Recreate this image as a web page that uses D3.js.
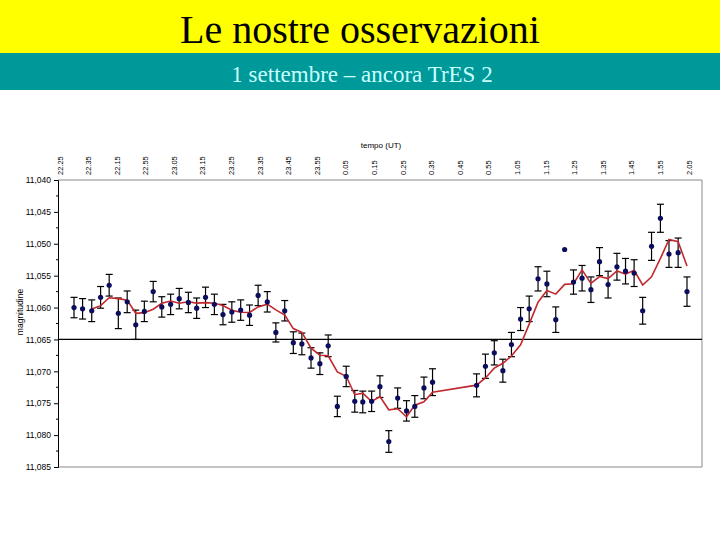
<!DOCTYPE html>
<html><head><meta charset="utf-8">
<script src="https://cdn.jsdelivr.net/npm/d3@7"></script>
<style>body{margin:0;background:#fff}svg{display:block}</style>
</head><body>
<svg id="c" width="720" height="540"></svg>
<script>
// Minutes after 22:25 UT for each observation
const minutes = [4.9,7.9,11.1,14.2,17.2,20.4,23.5,26.5,29.5,32.6,
  35.6,38.7,41.7,44.9,47.8,50.9,54.0,57.0,60.1,63.2,
  66.3,69.3,72.5,75.5,78.6,81.6,84.6,87.8,90.9,93.8,
  97.0,100.1,103.1,105.9,109.0,111.9,115.0,118.1,121.2,124.1,
  127.3,130.3,145.7,148.8,151.9,154.9,157.9,161.1,164.1,167.2,
  170.3,173.4,176.5,179.6,182.6,185.7,188.7,191.7,194.8,197.8,
  200.8,203.8,206.9,210.0,213.0,216.2,219.3];
const magnitude = [11.0600,11.0602,11.0605,11.0584,11.0565,11.0609,11.0591,11.0627,11.0606,11.0575,
  11.0599,11.0595,11.0586,11.0592,11.0601,11.0584,11.0595,11.0611,11.0607,11.0604,
  11.0612,11.0581,11.0591,11.0639,11.0605,11.0655,11.0657,11.0679,11.0688,11.0660,
  11.0755,11.0708,11.0747,11.0748,11.0747,11.0724,11.0810,11.0742,11.0762,11.0755,
  11.0726,11.0717,11.0722,11.0692,11.0671,11.0699,11.0658,11.0618,11.0602,11.0555,
  11.0563,11.0619,11.0509,11.0560,11.0554,11.0572,11.0528,11.0564,11.0536,11.0543,
  11.0546,11.0605,11.0504,11.0460,11.0516,11.0514,11.0575];
const errors = [.0016,.0016,.0017,.0017,.0017,.0024,.0017,.0023,.0016,.0016,
  .0016,.0016,.0016,.0016,.0016,.0016,.0016,.0016,.0016,.0016,
  .0016,.0016,.0016,.0015,.0016,.0017,.0017,.0016,.0017,.0017,
  .0016,.0016,.0017,.0017,.0016,.0017,.0017,.0016,.0016,.0017,
  .0017,.0021,.0018,.0019,.0019,.0018,.0019,.0018,.0020,.0019,
  .0020,.0020,0,.0019,.0020,.0020,.0022,.0021,.0021,.0020,
  .0021,.0021,.0022,.0022,.0021,.0023,.0023];
const timeLabels = ["22.25","22.35","22.15","22.55","23.05","23.15","23.25","23.35","23.45","23.55",
  "0.05","0.15","0.25","0.35","0.45","0.55","1.05","1.15","1.25","1.35","1.45","1.55","2.05"];
const yTicks = [11.040,11.045,11.050,11.055,11.060,11.065,11.070,11.075,11.080,11.085];
const refLevel = 11.065;
const trendPeriod = 3; // moving-average trendline period

const svg = d3.select("#c");
// Header bands
svg.append("rect").attr("x",0).attr("y",0).attr("width",720).attr("height",53).attr("fill","#ffff00");
svg.append("rect").attr("x",0).attr("y",53).attr("width",720).attr("height",37).attr("fill","#009999");
svg.append("text").attr("x",360).attr("y",43).attr("text-anchor","middle")
  .attr("font-family","Liberation Serif, Times New Roman, serif").attr("font-size",40).attr("fill","#000")
  .text("Le nostre osservazioni");
svg.append("text").attr("x",362).attr("y",82).attr("text-anchor","middle")
  .attr("font-family","Liberation Serif, Times New Roman, serif").attr("font-size",23).attr("fill","#c8ffff")
  .text("1 settembre \u2013 ancora TrES 2");

const L = 58, R = 702, T = 180, B = 467;
const x = d3.scaleLinear().domain([0,220]).range([60,689]);
const y = d3.scaleLinear().domain([11.040,11.085]).range([T,B]);

// Frame
svg.append("path").attr("d",`M${L},${T}H${R}V${B}H${L}`).attr("fill","none").attr("stroke","#8a8a8a").attr("stroke-width",1);

// Reference line
svg.append("line").attr("x1",L).attr("x2",R).attr("y1",y(refLevel)).attr("y2",y(refLevel))
  .attr("stroke","#000").attr("stroke-width",1.2);

// Y axis
const ya = svg.append("g").attr("transform",`translate(${L},0)`)
  .call(d3.axisLeft(y).tickValues(yTicks).tickSize(4).tickPadding(3)
    .tickFormat(d => d.toFixed(3).replace(".", ",")));
ya.select(".domain").attr("stroke","#000");
ya.selectAll(".tick line").attr("stroke","#000");
ya.selectAll("text").attr("font-family","Liberation Sans, Arial, sans-serif").attr("font-size",8.5).attr("fill","#000");
// minor ticks
const minor = yTicks.slice(0,-1).map(d => d + 0.0025);
svg.append("g").selectAll("line").data(minor).join("line")
  .attr("x1",L-2).attr("x2",L).attr("y1",d=>y(d)).attr("y2",d=>y(d)).attr("stroke","#000");

svg.append("text").attr("transform",`translate(23,312) rotate(-90)`).attr("text-anchor","middle")
  .attr("font-family","Liberation Sans, Arial, sans-serif").attr("font-size",8.5).text("magnitudine");

// Top time labels
svg.append("g").selectAll("text").data(timeLabels).join("text")
  .attr("transform",(d,i)=>`translate(${x(i*10)+2.5},175) rotate(-90)`)
  .attr("text-anchor","start")
  .attr("font-family","Liberation Sans, Arial, sans-serif").attr("font-size",7.5).attr("fill","#000")
  .text(d=>d);
svg.append("text").attr("x",381).attr("y",148).attr("text-anchor","middle")
  .attr("font-family","Liberation Sans, Arial, sans-serif").attr("font-size",8).text("tempo (UT)");

// Data
const data = minutes.map((m,i)=>({m, v:magnitude[i], e:errors[i]}));
const eb = svg.append("g").attr("stroke","#000").attr("stroke-width",1.2);
data.filter(d=>d.e>0).forEach(d=>{
  const cx = x(d.m);
  eb.append("line").attr("x1",cx).attr("x2",cx).attr("y1",y(d.v-d.e)).attr("y2",y(d.v+d.e));
  eb.append("line").attr("x1",cx-3.5).attr("x2",cx+3.5).attr("y1",y(d.v-d.e)).attr("y2",y(d.v-d.e));
  eb.append("line").attr("x1",cx-3.5).attr("x2",cx+3.5).attr("y1",y(d.v+d.e)).attr("y2",y(d.v+d.e));
});

// Moving average trendline (period 3)
const trend = data.slice(trendPeriod-1).map((d,k)=>({m:d.m, v:d3.mean(data.slice(k,k+trendPeriod),p=>p.v)}));
svg.append("path").datum(trend)
  .attr("d", d3.line().x(d=>x(d.m)).y(d=>y(d.v)))
  .attr("fill","none").attr("stroke","#c0282e").attr("stroke-width",1.6);

svg.append("g").selectAll("circle").data(data).join("circle")
  .attr("cx",d=>x(d.m)).attr("cy",d=>y(d.v)).attr("r",2.6).attr("fill","#0c0c5c");
</script>
</body></html>
